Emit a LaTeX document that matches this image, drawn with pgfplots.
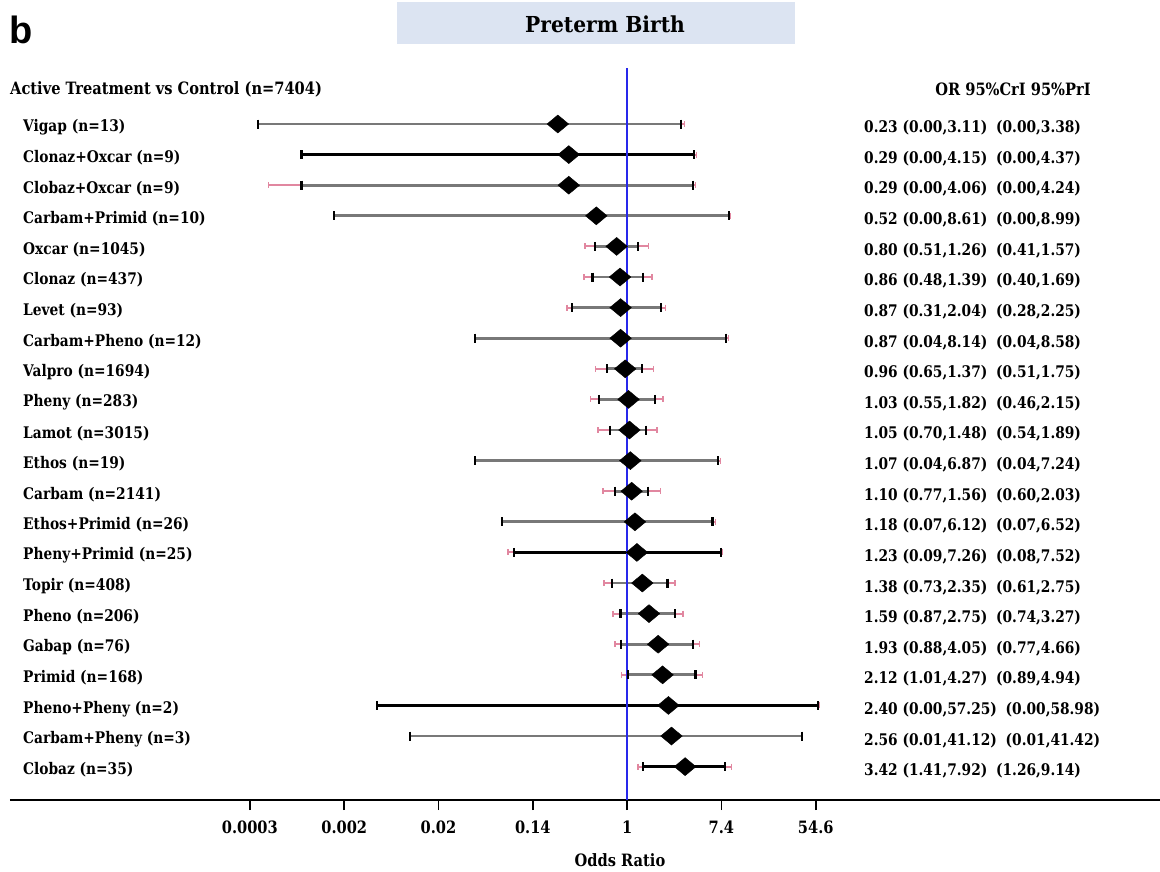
\documentclass[border=0pt]{standalone}
\usepackage{fontspec}
\setmainfont{DejaVu Serif}[FakeStretch=0.86]
\newfontfamily\sansb{Liberation Sans}
\usepackage{pgfplots}
\pgfplotsset{compat=1.18}
\definecolor{crigray}{RGB}{120,120,120}
\definecolor{pripink}{RGB}{225,135,160}
\definecolor{refblue}{RGB}{40,40,235}
\definecolor{titlebg}{RGB}{220,228,242}
\pgfplotsset{
  pri/.style={pripink, line width=2pt, mark=|, mark size=3pt, mark options={pripink, line width=1.5pt}},
  cri/.style={crigray, line width=2.8pt, mark=|, mark size=4.5pt, mark options={black, line width=2.2pt}},
}
\newcommand\row[6]{%
  \addplot[pri] coordinates {(#5,-#1) (#6,-#1)};
  \addplot[cri,#2] coordinates {(#3,-#1) (#4,-#1)};
}
\newcommand\lbl{\fontsize{16}{18}\selectfont\bfseries}
\begin{document}
\begin{tikzpicture}
\useasboundingbox (0,0) rectangle (1160pt,-872pt);
\begin{axis}[at={(10pt,-800pt)}, anchor=south west, scale only axis,
  width=1150pt, height=732pt,
  xmode=log, xmin=2.07e-6, xmax=80800, ymin=-23.09, ymax=0.83,
  xtick={0.000335,0.00248,0.0183,0.1353,1,7.389,54.6},
  xticklabels={0.0003,0.002,0.02,0.14,1,7.4,54.6},
  xminorticks=false,
  axis x line=bottom, axis y line=none,
  x axis line style={-, line width=2.6pt},
  tick style={black, line width=1.8pt}, tick align=outside, major tick length=10pt,
  xticklabel style={font=\fontsize{17}{19}\selectfont\bfseries, yshift=-7pt},
  /pgf/number format/assume math mode=true,
  clip=false,
]
\row{1}{crigray}{0.0004}{3.11}{0.0004}{3.38}
\row{2}{black}{0.001}{4.15}{0.001}{4.37}
\row{3}{crigray}{0.001}{4.06}{0.0005}{4.24}
\row{4}{crigray}{0.002}{8.61}{0.002}{8.99}
\row{5}{crigray}{0.51}{1.26}{0.41}{1.57}
\row{6}{crigray}{0.48}{1.39}{0.40}{1.69}
\row{7}{crigray}{0.31}{2.04}{0.28}{2.25}
\row{8}{crigray}{0.04}{8.14}{0.04}{8.58}
\row{9}{crigray}{0.65}{1.37}{0.51}{1.75}
\row{10}{crigray}{0.55}{1.82}{0.46}{2.15}
\row{11}{crigray}{0.70}{1.48}{0.54}{1.89}
\row{12}{crigray}{0.04}{6.87}{0.04}{7.24}
\row{13}{crigray}{0.77}{1.56}{0.60}{2.03}
\row{14}{crigray}{0.07}{6.12}{0.07}{6.52}
\row{15}{black}{0.09}{7.26}{0.08}{7.52}
\row{16}{crigray}{0.73}{2.35}{0.61}{2.75}
\row{17}{crigray}{0.87}{2.75}{0.74}{3.27}
\row{18}{crigray}{0.88}{4.05}{0.77}{4.66}
\row{19}{crigray}{1.01}{4.27}{0.89}{4.94}
\row{20}{black}{0.005}{57.25}{0.005}{58.98}
\row{21}{crigray}{0.01}{41.12}{0.01}{41.42}
\row{22}{black}{1.41}{7.92}{1.26}{9.14}
\addplot[only marks, mark=diamond*, mark size=9pt, mark options={black, xscale=1.6}] coordinates {
 (0.23,-1) (0.29,-2) (0.29,-3) (0.52,-4) (0.80,-5) (0.86,-6) (0.87,-7) (0.87,-8)
 (0.96,-9) (1.03,-10) (1.05,-11) (1.07,-12) (1.10,-13) (1.18,-14) (1.23,-15)
 (1.38,-16) (1.59,-17) (1.93,-18) (2.12,-19) (2.40,-20) (2.56,-21) (3.42,-22)};
\addplot[refblue, line width=2.4pt] coordinates {(1,0.83) (1,-23.09)};
\end{axis}
% panel letter and title
\node[anchor=base west, inner sep=0pt] at (9pt,-44pt) {\sansb\fontsize{38}{42}\selectfont\bfseries b};
\fill[titlebg] (397pt,-2pt) rectangle (795pt,-44pt);
\node at (605pt,-24pt) {\fontsize{22}{24}\selectfont\bfseries\addfontfeature{FakeStretch=0.92}Preterm Birth};
\node[anchor=west, inner sep=0pt] at (10pt,-89pt) {\fontsize{17}{19}\selectfont\bfseries Active Treatment vs Control (n=7404)};
\node[anchor=center, inner sep=0pt] at (1013pt,-89pt) {\fontsize{17}{19}\selectfont\bfseries OR 95\%CrI 95\%PrI};
\node at (620pt,-860pt) {\fontsize{17}{19}\selectfont\bfseries Odds Ratio};
\foreach \lab [count=\i] in {Vigap (n=13), Clonaz+Oxcar (n=9), Clobaz+Oxcar (n=9), Carbam+Primid (n=10),
  Oxcar (n=1045), Clonaz (n=437), Levet (n=93), Carbam+Pheno (n=12), Valpro (n=1694), Pheny (n=283),
  Lamot (n=3015), Ethos (n=19), Carbam (n=2141), Ethos+Primid (n=26), Pheny+Primid (n=25), Topir (n=408),
  Pheno (n=206), Gabap (n=76), Primid (n=168), Pheno+Pheny (n=2), Carbam+Pheny (n=3), Clobaz (n=35)}
  \node[anchor=west, inner sep=0pt] at (23pt,{-127pt-30.62pt*(\i-1)}) {\lbl \lab};
\foreach \txt [count=\i] in {
  {0.23 (0.00,3.11)\hspace{0.55em}(0.00,3.38)},
  {0.29 (0.00,4.15)\hspace{0.55em}(0.00,4.37)},
  {0.29 (0.00,4.06)\hspace{0.55em}(0.00,4.24)},
  {0.52 (0.00,8.61)\hspace{0.55em}(0.00,8.99)},
  {0.80 (0.51,1.26)\hspace{0.55em}(0.41,1.57)},
  {0.86 (0.48,1.39)\hspace{0.55em}(0.40,1.69)},
  {0.87 (0.31,2.04)\hspace{0.55em}(0.28,2.25)},
  {0.87 (0.04,8.14)\hspace{0.55em}(0.04,8.58)},
  {0.96 (0.65,1.37)\hspace{0.55em}(0.51,1.75)},
  {1.03 (0.55,1.82)\hspace{0.55em}(0.46,2.15)},
  {1.05 (0.70,1.48)\hspace{0.55em}(0.54,1.89)},
  {1.07 (0.04,6.87)\hspace{0.55em}(0.04,7.24)},
  {1.10 (0.77,1.56)\hspace{0.55em}(0.60,2.03)},
  {1.18 (0.07,6.12)\hspace{0.55em}(0.07,6.52)},
  {1.23 (0.09,7.26)\hspace{0.55em}(0.08,7.52)},
  {1.38 (0.73,2.35)\hspace{0.55em}(0.61,2.75)},
  {1.59 (0.87,2.75)\hspace{0.55em}(0.74,3.27)},
  {1.93 (0.88,4.05)\hspace{0.55em}(0.77,4.66)},
  {2.12 (1.01,4.27)\hspace{0.55em}(0.89,4.94)},
  {2.40 (0.00,57.25)\hspace{0.55em}(0.00,58.98)},
  {2.56 (0.01,41.12)\hspace{0.55em}(0.01,41.42)},
  {3.42 (1.41,7.92)\hspace{0.55em}(1.26,9.14)}}
  \node[anchor=west, inner sep=0pt] at (864pt,{-128pt-30.62pt*(\i-1)}) {\lbl \txt};
\end{tikzpicture}
\end{document}
